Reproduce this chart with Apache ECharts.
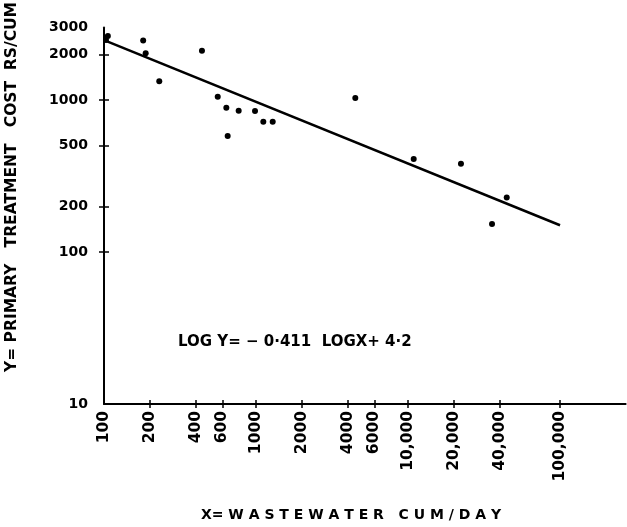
<!DOCTYPE html>
<html>
<head>
<meta charset="utf-8">
<script src="https://cdn.jsdelivr.net/npm/echarts@6/dist/echarts.min.js"></script>
<style>html,body{margin:0;padding:0;background:#fff;}#c{width:627px;height:527px;}</style>
</head>
<body>
<div id="c"></div>
<script>
// Wastewater flow (cum/day) and primary treatment cost (Rs/cum)
var flowX = [103, 106, 181, 188, 231, 441, 560, 638, 651, 769, 985, 1117, 1288, 4500, 10900, 22300, 35700, 44600];
var costY = [2480, 2640, 2460, 2030, 1330, 2110, 1050, 890, 580, 850, 846, 720, 720, 1030, 409, 381, 153, 228];
// fitted line end points
var fitX = [100, 100000];
var fitY = [2480, 150];
// axis ticks / labels
var xTickValues = [100, 200, 400, 600, 1000, 2000, 4000, 6000, 10000, 20000, 40000, 100000];
var xTickLabels = ['100', '200', '400', '600', '1000', '2000', '4000', '6000', '10,000', '20,000', '40,000', '100,000'];
var xTickMarks = [200, 400, 600, 1000, 2000, 4000, 6000, 10000, 20000, 40000, 100000];
var yTickValues = [10, 100, 200, 500, 1000, 2000, 3000];
var yTickLabels = ['10', '100', '200', '500', '1000', '2000', '3000'];
var yTickMarks = [100, 200, 500, 1000, 2000];

var FONT = 'DejaVu Sans';
function lookup(vals, labels, v) {
  for (var i = 0; i < vals.length; i++) { if (Math.abs(vals[i] - v) / vals[i] < 1e-6) return labels[i]; }
  return '';
}
var points = flowX.map(function (x, i) { return [x, costY[i]]; });
var fit = fitX.map(function (x, i) { return [x, fitY[i]]; });

var chart = echarts.init(document.getElementById('c'), null, {renderer: 'canvas'});
var axisLine = {show: true, lineStyle: {color: '#000', width: 2}};
chart.setOption({
  animation: false,
  backgroundColor: '#fff',
  grid: {left: 104, top: 27.5, right: 1.4, bottom: 123, containLabel: false},
  xAxis: [{
    type: 'log', logBase: 10, min: 100, max: 270000,
    axisLine: axisLine,
    splitLine: {show: false}, minorTick: {show: false},
    axisTick: {show: true, length: 4, lineStyle: {color: '#000', width: 1.5}, customValues: xTickMarks},
    axisLabel: {
      show: true, rotate: 90, margin: 7, color: '#000', fontFamily: FONT, fontWeight: 'bold', fontSize: 15.5,
      customValues: xTickValues,
      formatter: function (v) { return lookup(xTickValues, xTickLabels, v); }
    }
  }, {
    type: 'log', logBase: 10, min: 100, max: 270000, position: 'bottom',
    axisLine: {show: false}, splitLine: {show: false},
    axisTick: {show: true, inside: true, length: 4, lineStyle: {color: '#000', width: 1.5}, customValues: xTickMarks},
    axisLabel: {show: false}
  }],
  yAxis: [{
    type: 'log', logBase: 10, min: 10, max: 3000,
    axisLine: axisLine,
    splitLine: {show: false}, minorTick: {show: false},
    axisTick: {show: true, length: 5, lineStyle: {color: '#000', width: 1.5}, customValues: yTickMarks},
    axisLabel: {
      show: true, margin: 16, color: '#000', fontFamily: FONT, fontWeight: 'bold', fontSize: 14,
      customValues: yTickValues,
      formatter: function (v) { return lookup(yTickValues, yTickLabels, v); }
    }
  }, {
    type: 'log', logBase: 10, min: 10, max: 3000, position: 'left',
    axisLine: {show: false}, splitLine: {show: false},
    axisTick: {show: true, inside: true, length: 5, lineStyle: {color: '#000', width: 1.5}, customValues: yTickMarks},
    axisLabel: {show: false}
  }],
  series: [{
    type: 'line', data: fit, symbol: 'none', silent: true,
    lineStyle: {color: '#000', width: 2.5}
  }, {
    type: 'scatter', data: points, symbol: 'circle', symbolSize: 6,
    itemStyle: {color: '#000', opacity: 1}
  }],
  graphic: [{
    type: 'text', x: 12, y: 187, rotation: Math.PI / 2,
    style: {text: 'Y= PRIMARY   TREATMENT   COST  RS/CUM', fill: '#000', font: 'bold 15.5px ' + FONT, align: 'center', verticalAlign: 'middle'}
  }, {
    type: 'text', x: 351, y: 515,
    style: {text: 'X= W A S T E W A T E R   C U M / D A Y', fill: '#000', font: 'bold 14px ' + FONT, align: 'center', verticalAlign: 'middle'}
  }, {
    type: 'text', x: 178, y: 342,
    style: {text: 'LOG Y= \u2212 0\u00b7411  LOGX+ 4\u00b72', fill: '#000', font: 'bold 15px ' + FONT, align: 'left', verticalAlign: 'middle'}
  }]
});
</script>
</body>
</html>
